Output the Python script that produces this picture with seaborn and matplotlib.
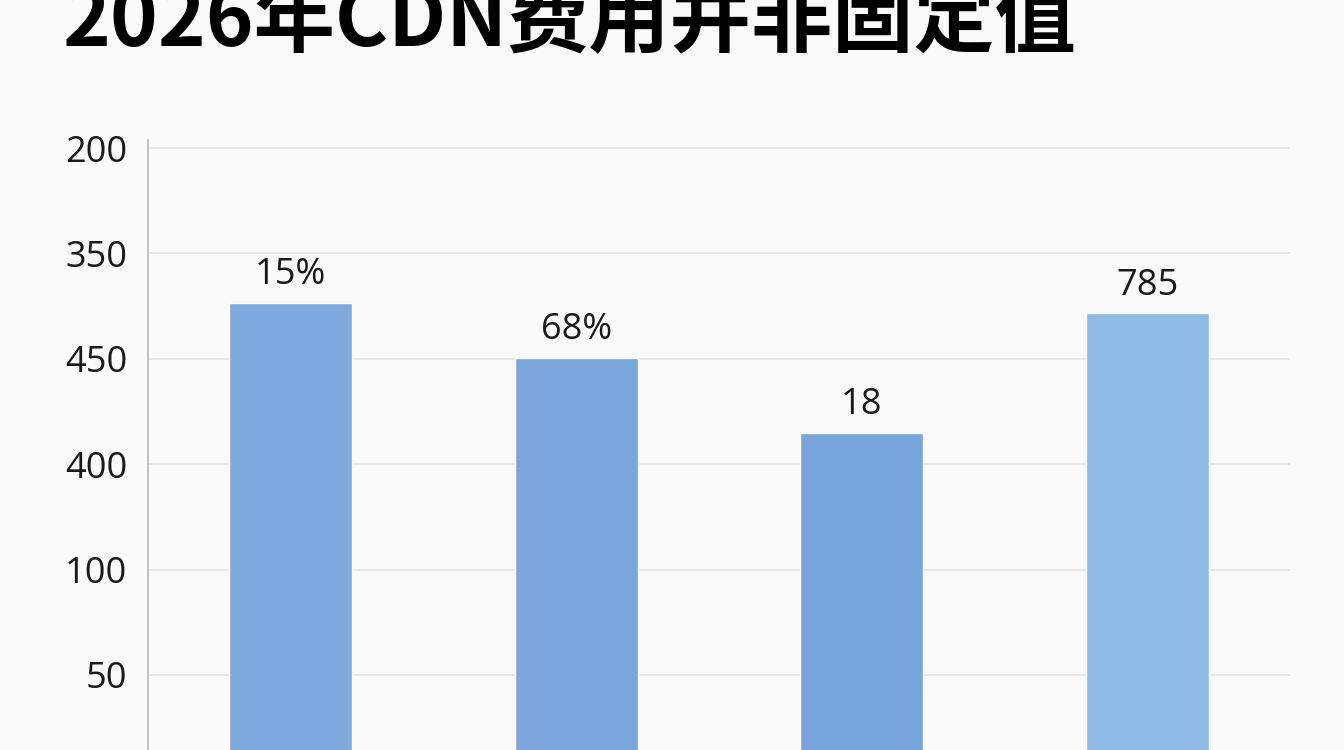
import matplotlib
matplotlib.use("Agg")
import matplotlib.pyplot as plt
import seaborn as sns
import pandas as pd

# ---- data ----
categories = ["项目一", "项目二", "项目三", "项目四"]
bar_values = [453, 401, 330, 443]          # bar heights on the axis scale
bar_labels = ["15%", "68%", "18", "785"]   # text shown above bars
tick_positions = [600, 500, 400, 300, 200, 100]
tick_labels = ["200", "350", "450", "400", "100", "50"]
bar_colors = ["#7eaadf", "#7aa6dc", "#78a5dc", "#8eb9e3"]
title = "2026年CDN费用并非固定值"

sns.set_theme(style="white")
plt.rcParams["font.family"] = ["Open Sans", "Noto Sans CJK SC", "DejaVu Sans"]

bg = "#fafafa"
fig = plt.figure(figsize=(13.44, 7.5), dpi=100, facecolor=bg)
ax = fig.add_axes([148 / 1344, 0.0, (1290 - 148) / 1344, 610 / 750])
ax.set_facecolor(bg)

df = pd.DataFrame({"cat": categories, "val": bar_values})
sns.barplot(data=df, x="cat", y="val", hue="cat", palette=bar_colors,
            width=0.43, legend=False, ax=ax, saturation=1, zorder=3)

ax.set_xlim(-0.5, 3.5)
ax.set_ylim(28.8, 607.6)
ax.set_yticks(tick_positions)
ax.set_yticklabels(tick_labels)
ax.tick_params(axis="y", labelsize=26, colors="#1a1a1a", length=0, pad=15)
ax.set_xticks([])
ax.set_xlabel("")
ax.set_ylabel("")
ax.yaxis.grid(True, color="#e4e4e4", linewidth=1.2, zorder=0)
ax.set_axisbelow(True)
for s in ["top", "right", "bottom"]:
    ax.spines[s].set_visible(False)
ax.spines["left"].set_color("#b8b8b8")
ax.spines["left"].set_linewidth(1.2)

for i, (v, lab) in enumerate(zip(bar_values, bar_labels)):
    ax.annotate(lab, xy=(i, v), xytext=(0, 7), textcoords="offset points",
                ha="center", va="bottom", fontsize=26, color="#1a1a1a")

fig.text(62 / 1344, 1 - 46 / 750, title, fontsize=58.5, fontweight="bold",
         ha="left", va="baseline", color="#000000",
         family=["Noto Sans CJK SC", "DejaVu Sans"])

fig.savefig("out.png", dpi=100, facecolor=bg)
